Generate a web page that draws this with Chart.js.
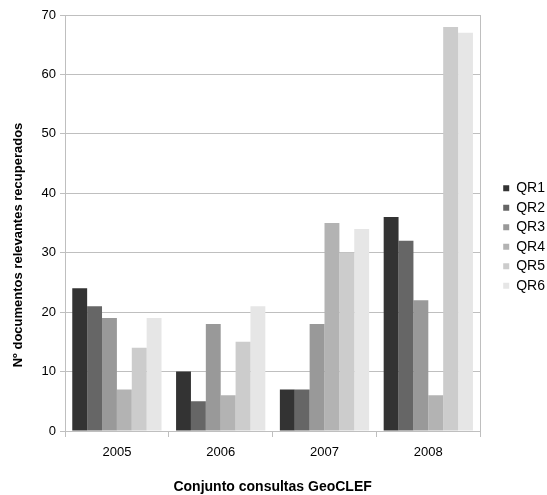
<!DOCTYPE html>
<html>
<head>
<meta charset="utf-8">
<script src="https://cdn.jsdelivr.net/npm/chart.js@4/dist/chart.umd.min.js"></script>
<style>
  html, body { margin: 0; padding: 0; background: #fff; }
  #wrap { width: 547px; height: 495px; }
</style>
</head>
<body>
<div id="wrap"><canvas id="chart"></canvas></div>
<script>
const years = ['2005', '2006', '2007', '2008'];
const seriesNames = ['QR1', 'QR2', 'QR3', 'QR4', 'QR5', 'QR6'];
const qr1 = [24, 10, 7, 36];
const qr2 = [21, 5, 7, 32];
const qr3 = [19, 18, 18, 22];
const qr4 = [7, 6, 35, 6];
const qr5 = [14, 15, 30, 68];
const qr6 = [19, 21, 34, 67];
const greys = ['#333333', '#666666', '#999999', '#b3b3b3', '#cccccc', '#e6e6e6'];

const yTitle = 'Nº documentos relevantes recuperados';
const xTitle = 'Conjunto consultas GeoCLEF';
const axisGrey = '#bfbfbf';
const font = 'Liberation Sans, Arial, sans-serif';

// y axis title drawn by hand so it sits where the original has it
const yTitlePlugin = {
    id: 'yTitle',
    afterDraw(chart) {
        const ctx = chart.ctx;
        ctx.save();
        ctx.translate(18, 245);
        ctx.rotate(-Math.PI / 2);
        ctx.font = 'bold 13px ' + font;
        ctx.fillStyle = '#000';
        ctx.textAlign = 'center';
        ctx.textBaseline = 'middle';
        ctx.fillText(yTitle, 0, 0);
        ctx.restore();
    }
};

const allValues = [qr1, qr2, qr3, qr4, qr5, qr6];
const datasets = seriesNames.map((name, i) => ({
    label: name,
    data: allValues[i],
    backgroundColor: greys[i],
    borderWidth: 0,
    barPercentage: 1,
    categoryPercentage: 0.86
}));

new Chart(document.getElementById('chart'), {
    type: 'bar',
    data: { labels: years, datasets: datasets },
    plugins: [yTitlePlugin],
    options: {
        responsive: true,
        maintainAspectRatio: false,
        animation: false,
        layout: { padding: { left: 8, top: 15, right: -8, bottom: 0 } },
        plugins: {
            tooltip: { enabled: false },
            legend: {
                position: 'right',
                align: 'center',
                fullSize: false,
                title: {
                    display: true,
                    text: ' ',
                    padding: { top: 0, bottom: 18 },
                    font: { size: 10, lineHeight: 1 }
                },
                labels: {
                    boxWidth: 6,
                    boxHeight: 6,
                    padding: 5.5,
                    color: '#000',
                    font: { family: font, size: 14 }
                }
            }
        },
        scales: {
            x: {
                offset: true,
                grid: {
                    offset: true,
                    drawOnChartArea: false,
                    drawTicks: true,
                    tickLength: 6,
                    color: axisGrey
                },
                border: { color: axisGrey, width: 1 },
                ticks: {
                    padding: 8,
                    color: '#000',
                    font: { family: font, size: 13 }
                },
                title: {
                    display: true,
                    text: xTitle,
                    color: '#000',
                    padding: { top: 0, bottom: 1 },
                    font: { family: font, size: 14, weight: 'bold', lineHeight: 1 }
                },
                afterFit(scale) { scale.height = 64; }
            },
            y: {
                min: 0,
                max: 70,
                ticks: {
                    stepSize: 10,
                    padding: 4,
                    color: '#000',
                    font: { family: font, size: 13 }
                },
                grid: {
                    color: axisGrey,
                    tickLength: 5
                },
                border: { color: axisGrey, width: 1 },
                afterFit(scale) { scale.width = 57; }
            },
            yRight: {
                position: 'right',
                display: true,
                grid: { display: false },
                ticks: { display: false },
                border: { color: axisGrey, width: 1 },
                afterFit(scale) { scale.width = 17.5; }
            }
        }
    }
});
</script>
</body>
</html>
